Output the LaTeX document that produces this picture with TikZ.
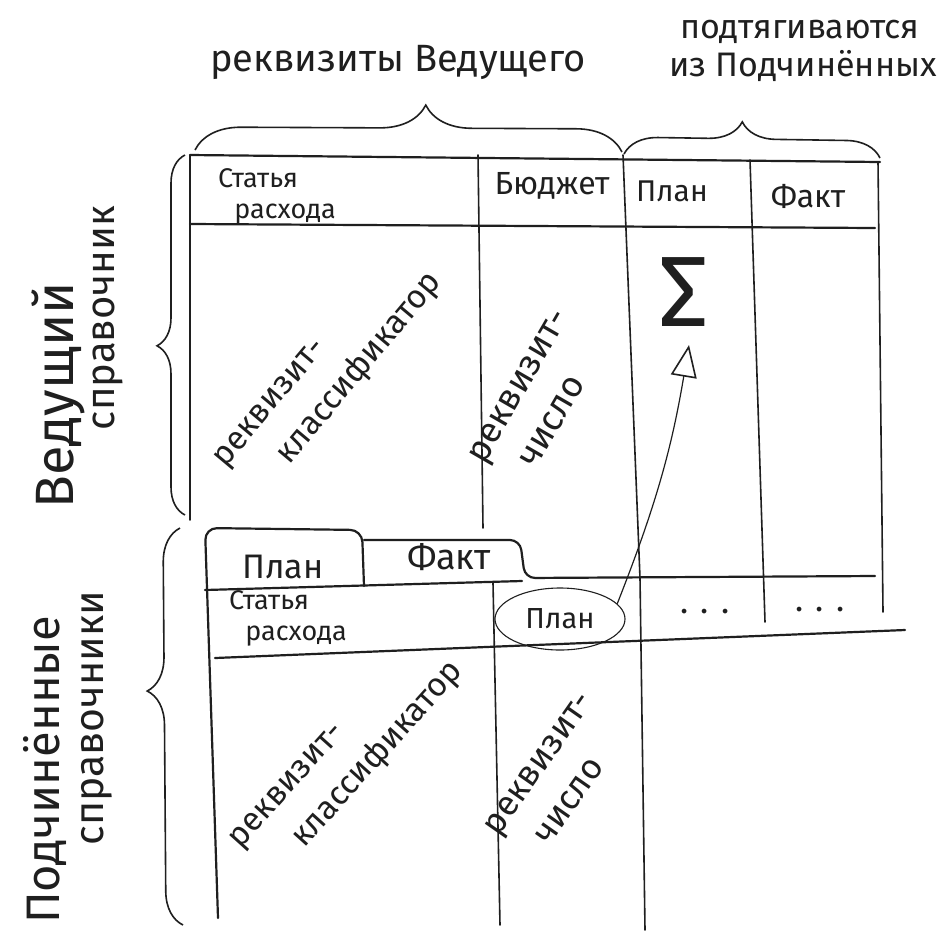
\documentclass[tikz,border=0pt]{standalone}
\usepackage{fontspec}
\setmainfont{Fira Sans}
\usetikzlibrary{decorations.pathreplacing,shapes.geometric,arrows.meta}
\tikzset{
  ln/.style={line width=2.2pt,line cap=round,draw=black!88},
  vl/.style={line width=1.6pt,line cap=round,draw=black!88},
  br/.style 2 args={line width=1.6pt,draw=black!88,decorate,
    decoration={brace,amplitude=#1,aspect=#2}},
  txt/.style={inner sep=0pt,text=black!88,font=\fontsize{#1}{#1}\selectfont},
  rtxt/.style 2 args={inner sep=0pt,text=black!88,align=left,rotate=#2,
    font=\fontsize{#1}{47}\selectfont}
}
\begin{document}
\begin{tikzpicture}[x=1pt,y=-1pt]
\useasboundingbox[fill=white] (0,0) rectangle (952,930);
% labels over the table
\node[txt=38](hr) at (398,62) {реквизиты Ведущего};
\node[txt=34](hp1) at (800,32) {подтягиваются};
\node[txt=34](hp2) at (803,66) {из Подчинённых};
\draw[br={46pt}{0.54}] (195,150) -- (622,152);
\draw[br={34pt}{0.46}] (624,154) -- (880,158);
% upper table
\draw[ln] (190,155) -- (880,162);
\draw[ln] (190,224) -- (875,228);
\draw[vl] (190,155) -- (190,520);
\draw[vl] (478,155) -- (483,528);
\draw[vl] (623,155) -- (640,578) -- (645,930);
\draw[vl] (750,160) -- (765,622);
\draw[vl] (878,162) -- (883,612);
\node[txt=27,align=left](st1) at (277,196) {Статья\\[4pt]\hspace*{0.6em}расхода};
\node[txt=32](bu) at (552,186) {Бюджет};
\node[txt=30](pl1) at (672,191) {План};
\node[txt=32](fa1) at (808,196) {Факт};
\node[rtxt={33}{50}](kl1) at (330,372) {реквизит-\\\hspace*{1.3em}классификатор};
\node[rtxt={36}{60}](ch1) at (539,398) {реквизит-\\\hspace*{0.6em}число};
\node[txt=100](sg) at (684,292) {Σ};
% lower table with tabs
\draw[ln,rounded corners=12pt] (218,918) -- (205,528) -- (362,530) -- (364,586);
\draw[ln,rounded corners=10pt] (364,540) -- (520,540) -- (525,578) -- (875,576);
\draw[ln] (205,590) -- (522,581);
\draw[ln] (215,658) -- (905,630);
\draw[vl] (493,583) -- (500,925);
\node[txt=34](tp) at (283,567) {План};
\node[txt=36](tf) at (449,557) {Факт};
\node[txt=27,align=left](st2) at (288,618) {Статья\\[4pt]\hspace*{0.6em}расхода};
\node[txt=29,draw=black!88,line width=1.1pt,ellipse,minimum width=130pt,
  minimum height=62pt](pl2) at (560,619) {План};
\node[txt=34](d1) at (705,612) {. . .};
\node[txt=34](d2) at (820,610) {. . .};
\node[rtxt={33}{48}](kl2) at (348,757) {реквизит-\\\hspace*{1.3em}классификатор};
\node[rtxt={35}{55}](ch2) at (558,777) {реквизит-\\\hspace*{0.6em}число};
\coordinate (tip) at (689,345);
\draw[line width=1.2pt,draw=black!88,
  -{Triangle[open,length=32pt,width=26pt,line width=1.6pt]}]
  (pl2.15) to[bend right=6] (tip);
% braces on the left
\draw[br={28pt}{0.47}] (185,515) -- (185,155);
\draw[br={34pt}{0.59}] (183,925) -- (180,528);
\node[txt=54,rotate=90](ved1) at (58,395) {Ведущий};
\node[txt=40,rotate=90](ved2) at (108,318) {справочник};
\node[txt=47,rotate=90](pod1) at (45,770) {Подчинённые};
\node[txt=41,rotate=90](pod2) at (97,718) {справочники};
\end{tikzpicture}
\end{document}
